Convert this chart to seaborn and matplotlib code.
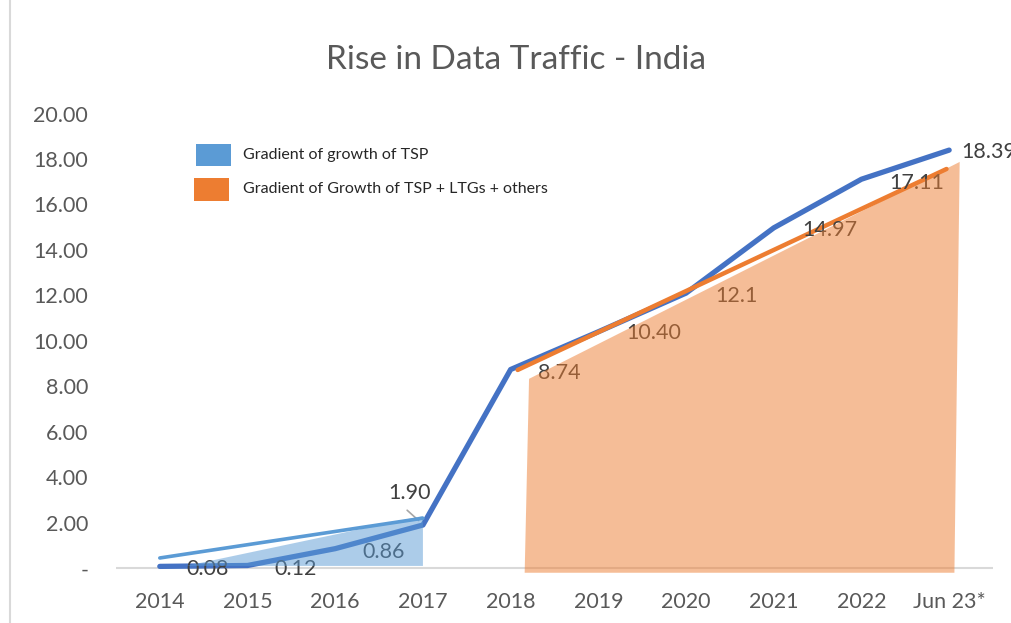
import matplotlib
matplotlib.use("Agg")
import matplotlib.pyplot as plt
import seaborn as sns
import pandas as pd
from matplotlib.patches import Polygon, Rectangle
from matplotlib.lines import Line2D

sns.set_theme(style="white")
plt.rcParams['font.family'] = ['Lato', 'DejaVu Sans']

# ---- data ----
categories = ["2014", "2015", "2016", "2017", "2018", "2019", "2020", "2021", "2022", "Jun 23*"]
traffic = [0.08, 0.12, 0.86, 1.90, 8.74, 10.40, 12.1, 14.97, 17.11, 18.39]
value_labels = ["0.08", "0.12", "0.86", "1.90", "8.74", "10.40", "12.1", "14.97", "17.11", "18.39"]
y_ticks = [0, 2, 4, 6, 8, 10, 12, 14, 16, 18, 20]
y_tick_labels = ["-", "2.00", "4.00", "6.00", "8.00", "10.00", "12.00", "14.00", "16.00", "18.00", "20.00"]

# trend (gradient) lines: start/end in category units and values
tsp_trend_x = [0.0, 3.0]
tsp_trend_y = [0.45, 2.2]
all_trend_x = [4.08, 8.97]
all_trend_y = [8.72, 17.56]
legend_labels = ["Gradient of growth of TSP", "Gradient of Growth of TSP + LTGs + others"]

# ---- colours ----
dark_blue = "#4472C4"
light_blue = "#5B9BD5"
orange = "#ED7D31"
text_dark = "#404040"
text_grey = "#595959"

fig = plt.figure(figsize=(10.11, 6.23), dpi=100)
ax = fig.add_axes([0.1147, 0.0770, 0.8675, 0.7408])

x = list(range(len(categories)))
df = pd.DataFrame({"x": x, "traffic": traffic})

# data labels (drawn over the lines but under the translucent shading)
offsets = [(0.55, -0.13), (1.55, -0.14), (2.55, -0.14), (2.85, 1.42), (4.56, -0.14),
           (5.63, -0.05), (6.57, -0.12), (7.64, -0.09), (8.63, -0.16), (9.14, -0.09)]
for (lx, dy), v, lab in zip(offsets, traffic, value_labels):
    ha = "left" if lab == "18.39" else "center"
    ax.text(lx, v + dy, lab, ha=ha, va="center", fontsize=15.5, color=text_dark, zorder=4.5,
            clip_on=False)
ax.plot([2.82, 2.95], [2.55, 2.1], color="#a6a6a6", lw=1.2, zorder=2)

# baseline
ax.plot([-0.5, 9.5], [0, 0], color="#d9d9d9", lw=1.5, zorder=1)

# main line
sns.lineplot(data=df, x="x", y="traffic", ax=ax, color=dark_blue, lw=3.8,
             zorder=3, solid_capstyle="round", solid_joinstyle="round")

# trend lines
ax.plot(tsp_trend_x, tsp_trend_y, color=light_blue, lw=2.6, zorder=4)
ax.plot(all_trend_x, all_trend_y, color=orange, lw=3.2, zorder=4)

# gradient shading
ax.add_patch(Polygon([(0.3, 0.1), (3.0, 2.3), (3.0, 0.1)], closed=True,
                     facecolor=light_blue, alpha=0.5, edgecolor="none", zorder=5))
ax.add_patch(Polygon([(4.16, -0.2), (4.21, 8.33), (9.12, 17.87), (9.06, -0.2)], closed=True,
                     facecolor=orange, alpha=0.5, edgecolor="none", zorder=5))

ax.set_xlim(-0.5, 9.5)
ax.set_ylim(-0.3, 20)
ax.set_xticks(x)
ax.set_xticklabels(categories, fontsize=15.5, color=text_grey)
ax.set_yticks(y_ticks)
ax.set_yticklabels(y_tick_labels, fontsize=15.5, color=text_grey)
ax.tick_params(axis="y", length=0, pad=20)
ax.tick_params(axis="x", length=0, pad=12)
ax.set_xlabel("")
ax.set_ylabel("")
for s in ax.spines.values():
    s.set_visible(False)

# title
fig.text(0.51, 0.903, "Rise in Data Traffic - India", ha="center", va="center",
         fontsize=24, color=text_grey)

# legend (manual, placed like the reference)
W, H = 1011, 623
fig.patches.append(Rectangle((196 / W, 1 - 166 / H), 35 / W, 22 / H, transform=fig.transFigure,
                             facecolor=light_blue, edgecolor="none"))
fig.patches.append(Rectangle((194 / W, 1 - 201 / H), 35 / W, 23 / H, transform=fig.transFigure,
                             facecolor=orange, edgecolor="none"))
fig.text(243 / W, 1 - 155 / H, legend_labels[0], ha="left", va="center", fontsize=11.5,
         color="#262626")
fig.text(243 / W, 1 - 189 / H, legend_labels[1], ha="left", va="center", fontsize=11.5,
         color="#262626")

# left border of chart area
fig.add_artist(Line2D([10 / W, 10 / W], [0, 1], transform=fig.transFigure, color="#d9d9d9", lw=1.5))

fig.savefig("out.png", dpi=100)
